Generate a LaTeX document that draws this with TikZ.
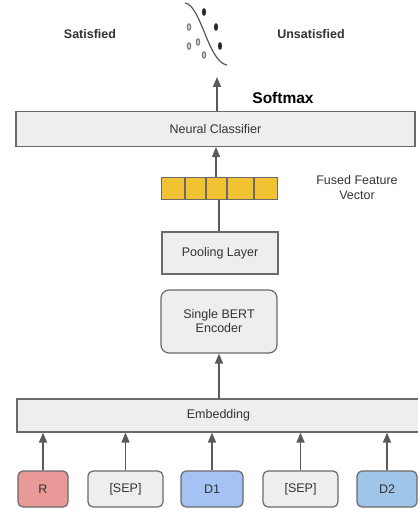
\documentclass[tikz,border=0pt]{standalone}
\usepackage{fontspec}
\setmainfont{Liberation Sans}
\usetikzlibrary{arrows.meta}
\definecolor{boxfill}{HTML}{EEEEEE}
\definecolor{boxline}{HTML}{6A6A6A}
\definecolor{arrowc}{HTML}{5A5A5A}
\definecolor{txt}{HTML}{333333}
\definecolor{rfill}{HTML}{EA9999}
\definecolor{d1fill}{HTML}{A4C2F4}
\definecolor{d2fill}{HTML}{9FC5E8}
\definecolor{vecfill}{HTML}{F1C232}
\tikzset{
  box/.style={draw=boxline, fill=boxfill, line width=1.2pt, inner sep=0pt, text=txt, font=\fontsize{12.5}{14}\selectfont, align=center},
  rbox/.style={box, rounded corners=5pt},
  conn/.style={draw=arrowc, line width=1.5pt},
  arr/.style={conn, -{Triangle[width=8pt,length=10pt]}},
  lbl/.style={text=txt, inner sep=0pt, align=center},
  dotf/.style={fill=black!85, draw=black!70, line width=0.4pt},
  doto/.style={fill=black!20, draw=black!55, line width=0.9pt},
}
\begin{document}
\begin{tikzpicture}[x=1pt,y=-1pt]
\useasboundingbox[fill=white] (0,0) rectangle (417,510);
% top labels
\node[lbl, font=\bfseries\fontsize{12.5}{14}\selectfont] (sat) at (90,34) {Satisfied};
\node[lbl, font=\bfseries\fontsize{12.5}{14}\selectfont] (unsat) at (311,34) {Unsatisfied};
% sigmoid graphic
\draw[draw=black!65, line width=1.2pt] (185,3) .. controls (201,5) and (208,62) .. (227,65);
\fill[dotf] (204,12) ellipse (2 and 3.6);
\fill[dotf] (216,27) ellipse (2 and 3.6);
\fill[dotf] (220,46) ellipse (2 and 3.6);
\filldraw[doto] (189,27) ellipse (1.8 and 3.3);
\filldraw[doto] (189,46) ellipse (1.8 and 3.3);
\filldraw[doto] (198,42) ellipse (1.8 and 3.3);
\filldraw[doto] (204,55) ellipse (1.8 and 3.3);
\coordinate (sig) at (217,77);
% softmax
\node[lbl, text=black, font=\bfseries\fontsize{15.5}{18}\selectfont] (soft) at (283,98) {Softmax};
% classifier
\node[box, minimum width=399pt, minimum height=35pt] (cls) at (215.5,129) {Neural Classifier};
% feature vector
\node[draw=boxline, fill=vecfill, line width=1.2pt, minimum width=115.5pt, minimum height=22.5pt, inner sep=0pt] (vec) at (219.5,188.5) {};
\foreach \xx in {185,206,227,254} \draw[boxline, line width=1.2pt] (\xx,177.5) -- (\xx,199.5);
\node[lbl, font=\fontsize{12.5}{15}\selectfont] (fusedlbl) at (357,188) {Fused Feature\\Vector};
% pooling
\node[box, minimum width=116pt, minimum height=42pt] (pool) at (220,253) {Pooling Layer};
% encoder
\node[rbox, rounded corners=8pt, minimum width=116pt, minimum height=63pt] (enc) at (219,321.5) {Single BERT\\Encoder};
% embedding
\node[box, minimum width=403pt, minimum height=33pt] (emb) at (218.5,415.5) {Embedding};
% inputs
\node[rbox, fill=rfill, minimum width=50pt, minimum height=36pt] (r) at (43,489) {R};
\node[rbox, minimum width=75pt, minimum height=36pt] (sep1) at (125.5,489) {[SEP]};
\node[rbox, fill=d1fill, minimum width=62pt, minimum height=36pt] (d1) at (212,489) {D1};
\node[rbox, minimum width=75pt, minimum height=36pt] (sep2) at (300.5,489) {[SEP]};
\node[rbox, fill=d2fill, minimum width=60pt, minimum height=36pt] (d2) at (387,489) {D2};
% connectors
\draw[arr] (cls.north -| sig) -- (sig);
\draw[arr] ([xshift=-3.5pt]vec.north) -- ([xshift=-3.5pt]vec.north |- cls.south);
\draw[conn] ([xshift=-1pt]pool.north) -- ([xshift=-1pt]pool.north |- vec.south);
\draw[arr] (emb.north -| enc.south) -- (enc.south);
\foreach \n in {r,sep1,d1,sep2,d2} \draw[arr] (\n.north) -- (\n.north |- emb.south);
\end{tikzpicture}
\end{document}
